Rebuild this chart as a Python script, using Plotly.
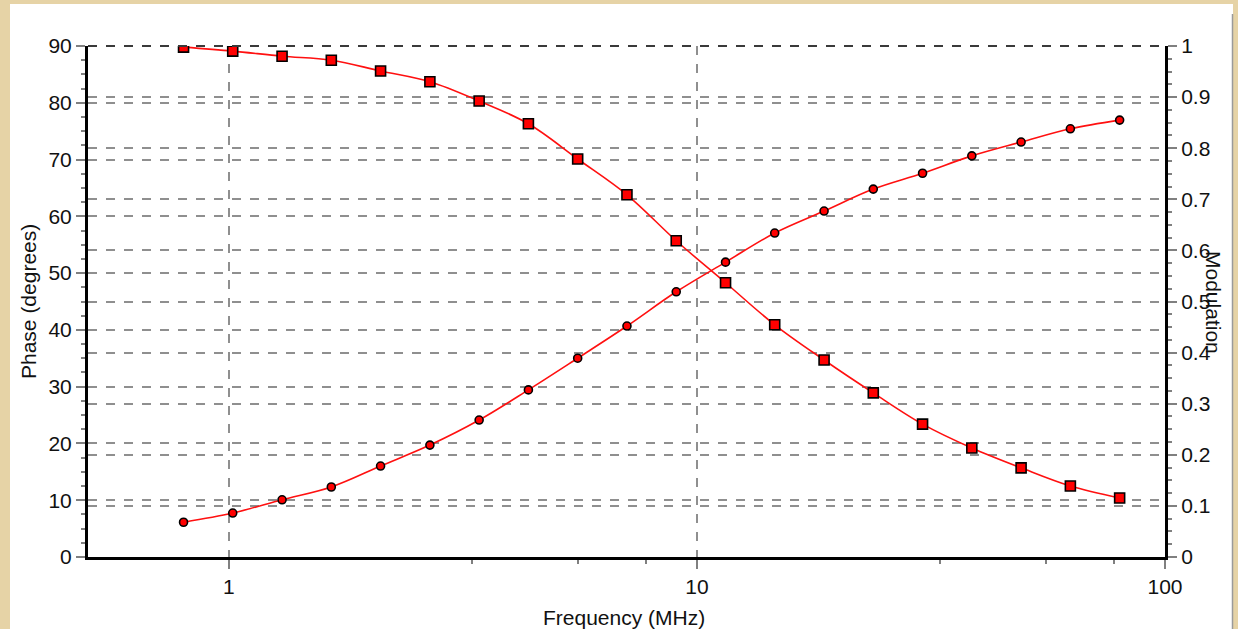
import plotly.graph_objects as go

# ---- data ----
freq_mhz = [0.8, 1.019, 1.299, 1.655, 2.109, 2.688, 3.425, 4.364, 5.561, 7.087,
            9.031, 11.51, 14.66, 18.69, 23.81, 30.34, 38.66, 49.27, 62.78, 80.0]
phase_deg = [89.8, 89.1, 88.2, 87.5, 85.6, 83.7, 80.3, 76.3, 70.1, 63.8,
             55.7, 48.3, 40.9, 34.7, 28.9, 23.4, 19.2, 15.7, 12.5, 10.4]
modulation = [0.068, 0.086, 0.112, 0.137, 0.178, 0.219, 0.268, 0.327, 0.389, 0.452,
              0.519, 0.577, 0.634, 0.677, 0.720, 0.751, 0.785, 0.812, 0.838, 0.855]
x_ticks = [1, 10, 100]
x_tick_labels = ["1", "10", "100"]
x_minor_ticks = [3.3, 5.56, 7.8, 33, 55.6, 78]

W, H = 1238, 629
ML, MR, MT, MB = 88, 73, 46, 72
PW, PH = W - ML - MR, H - MT - MB

def px_x(p):
    return (p - ML) / PW

def px_y(p):
    return (H - MB - p) / PH

FONT = "Liberation Sans, Arial, sans-serif"
GRID = "#8f8f8f"

fig = go.Figure()
fig.add_trace(go.Scatter(
    x=freq_mhz, y=phase_deg, mode="lines+markers", name="Phase",
    line=dict(color="#ff1010", width=1.6, shape="spline", smoothing=1.0),
    marker=dict(symbol="square", size=10, color="#ff0000",
                line=dict(color="#000000", width=1.6)),
    yaxis="y", showlegend=False))
fig.add_trace(go.Scatter(
    x=freq_mhz, y=modulation, mode="lines+markers", name="Modulation",
    line=dict(color="#ff1010", width=1.6, shape="spline", smoothing=1.0),
    marker=dict(symbol="circle", size=8, color="#ff0000",
                line=dict(color="#000000", width=1.6)),
    yaxis="y2", showlegend=False))

fig.update_layout(
    width=W, height=H, autosize=False,
    margin=dict(l=ML, r=MR, t=MT, b=MB, pad=0),
    paper_bgcolor="#e6d3a6", plot_bgcolor="#ffffff",
    font=dict(family=FONT, size=21, color="#111111"),
    xaxis=dict(
        type="log", range=[-0.30103, 2],
        tickvals=x_ticks, ticktext=x_tick_labels,
        showline=True, linecolor="#000000", linewidth=3, mirror=False,
        ticks="outside", ticklen=9, tickwidth=1.5, tickcolor="#808080",
        showgrid=True, gridcolor=GRID, gridwidth=2, griddash="dash",
        zeroline=False,
        minor=dict(tickvals=x_minor_ticks, ticks="outside", ticklen=4,
                   tickcolor="#808080", tickwidth=1.5, showgrid=False),
        tickfont=dict(family=FONT, size=21, color="#111111"),
    ),
    yaxis=dict(
        range=[0, 90], dtick=10, tick0=0,
        showline=True, linecolor="#000000", linewidth=3, mirror=False,
        ticks="outside", ticklen=9, tickwidth=1.5, tickcolor="#808080",
        showgrid=True, gridcolor=GRID, gridwidth=2, griddash="dash",
        zeroline=False,
        minor=dict(dtick=2.5, ticks="outside", ticklen=4,
                   tickcolor="#808080", tickwidth=1.5, showgrid=False),
        tickfont=dict(family=FONT, size=21, color="#111111"),
    ),
    yaxis2=dict(
        range=[0, 1], dtick=0.1, tick0=0, overlaying="y", side="right",
        showline=True, linecolor="#000000", linewidth=3, mirror=False,
        ticks="outside", ticklen=9, tickwidth=1.5, tickcolor="#808080",
        showgrid=True, gridcolor=GRID, gridwidth=2, griddash="dash",
        zeroline=False,
        minor=dict(dtick=0.025, ticks="outside", ticklen=4,
                   tickcolor="#808080", tickwidth=1.5, showgrid=False),
        tickfont=dict(family=FONT, size=21, color="#111111"),
    ),
)

# white panel behind the whole chart (parchment shows around it)
fig.add_shape(type="rect", xref="paper", yref="paper", layer="below",
              x0=px_x(10), x1=px_x(1233), y0=px_y(629), y1=px_y(4),
              fillcolor="#ffffff", line=dict(width=0))
fig.add_shape(type="line", xref="paper", yref="paper", layer="below",
              x0=px_x(1232.5), x1=px_x(1232.5), y0=px_y(629), y1=px_y(14),
              line=dict(color="#9a9a9a", width=1.5))
# darker dashed top border
fig.add_shape(type="line", xref="paper", yref="paper", layer="above",
              x0=0, x1=1, y0=1, y1=1,
              line=dict(color="#3a3a3a", width=2, dash="dash"))

fig.add_annotation(text="Frequency (MHz)", xref="paper", yref="paper",
                   x=px_x(624), y=px_y(617), showarrow=False,
                   xanchor="center", yanchor="middle",
                   font=dict(family=FONT, size=21, color="#111111"))
fig.add_annotation(text="Phase (degrees)", xref="paper", yref="paper",
                   x=px_x(28), y=px_y(302), showarrow=False, textangle=-90,
                   xanchor="center", yanchor="middle",
                   font=dict(family=FONT, size=21, color="#111111"))
fig.add_annotation(text="Modulation", xref="paper", yref="paper",
                   x=px_x(1214), y=px_y(302), showarrow=False, textangle=90,
                   xanchor="center", yanchor="middle",
                   font=dict(family=FONT, size=21, color="#111111"))

fig.write_html("out.html",
               config={"displayModeBar": False},
               post_script="document.body.style.margin='0';"
                           "document.body.style.padding='0';"
                           "document.body.style.overflow='hidden';")
